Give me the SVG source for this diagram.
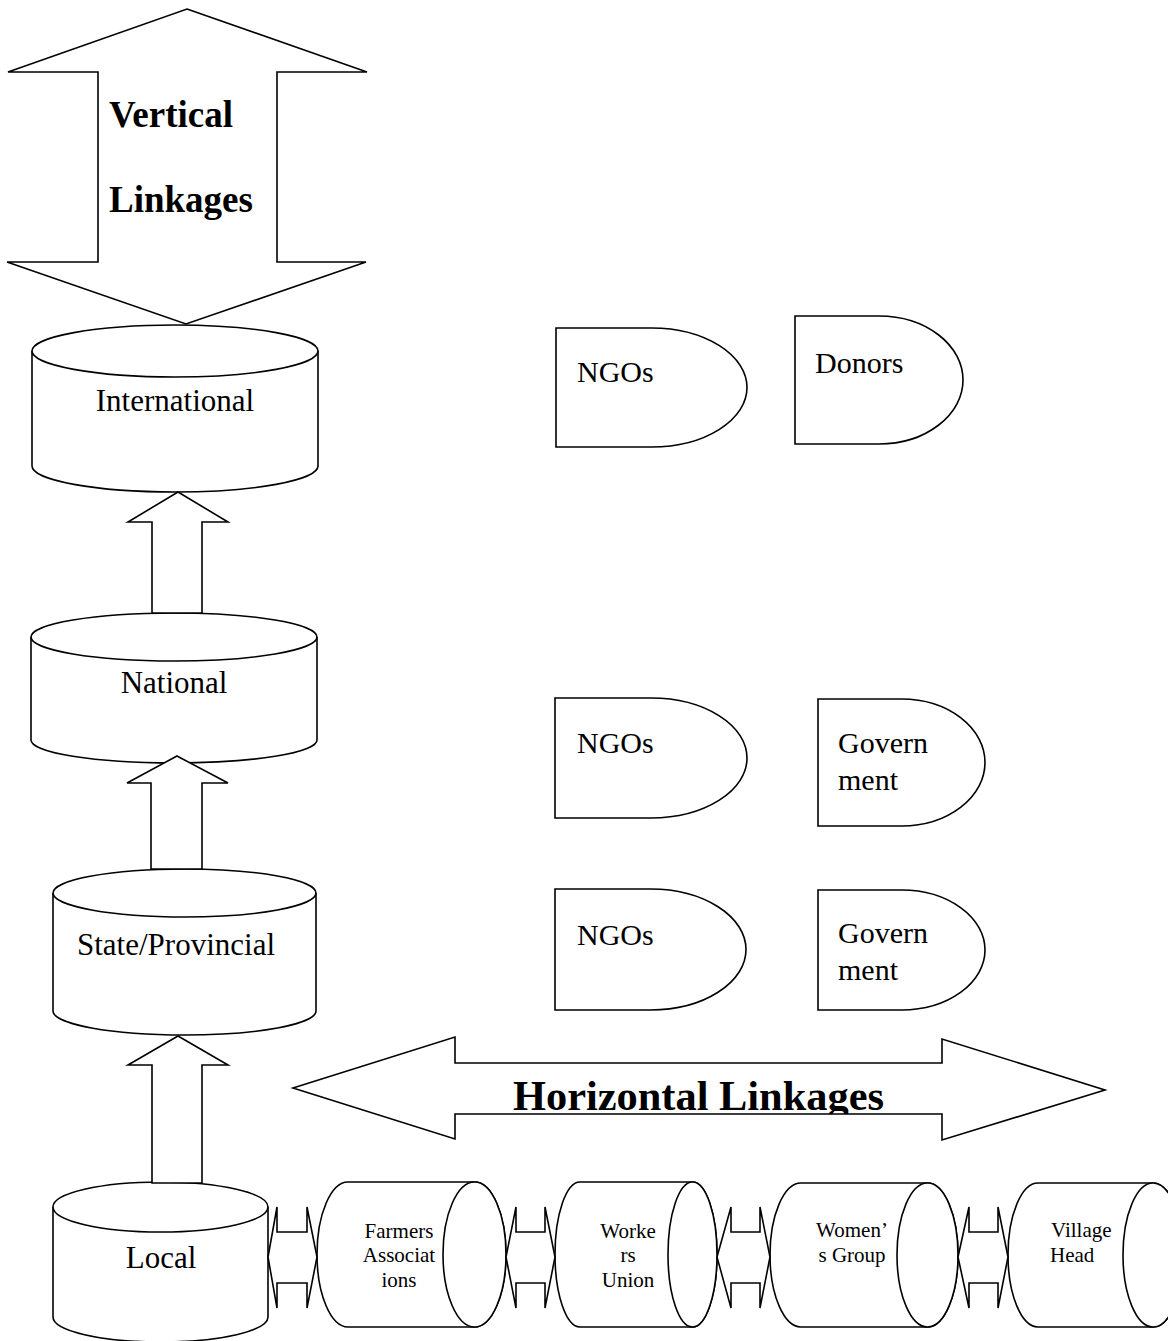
<svg xmlns="http://www.w3.org/2000/svg" width="1168" height="1341" viewBox="0 0 1168 1341">
<style>
.s{fill:#fff;stroke:#000;stroke-width:1.6;stroke-linejoin:miter}
.t{font-family:"Liberation Serif","Times New Roman",serif;fill:#000}
.big{font-size:31px}
.sm{font-size:21px}
.lab{font-size:30px}
.b{font-weight:bold}
</style>
<defs>
<clipPath id="hclip"><rect x="290" y="1030" width="820" height="84"/></clipPath>
</defs>
<rect width="1168" height="1341" fill="#fff"/>

<g id="international">
  <path class="s" d="M32,351 V466 A143 26 0 0 0 318,466 V351"/>
  <ellipse class="s" cx="175" cy="351" rx="143" ry="26"/>
  <text class="t big" x="175" y="411" text-anchor="middle">International</text>
</g>
<g id="national">
  <path class="s" d="M31,637 V740 A143 23 0 0 0 317,740 V637"/>
  <ellipse class="s" cx="174" cy="637" rx="143" ry="24"/>
  <text class="t big" x="174" y="693" text-anchor="middle">National</text>
</g>
<g id="state-provincial">
  <path class="s" d="M53,893 V1011 A131.5 24 0 0 0 316,1011 V893"/>
  <ellipse class="s" cx="184.5" cy="893" rx="131.5" ry="24"/>
  <text class="t big" x="176" y="955" text-anchor="middle">State/Provincial</text>
</g>
<g id="local">
  <path class="s" d="M53,1207 V1317 A107.5 25 0 0 0 268,1317 V1207"/>
  <ellipse class="s" cx="160.5" cy="1207" rx="107.5" ry="25"/>
  <text class="t big" x="161" y="1268" text-anchor="middle">Local</text>
</g>

<g id="farmers-associations">
  <path class="s" d="M348,1182 H474.5 A31.5 72.5 0 0 1 474.5,1327 H348 A31 72.5 0 0 1 348,1182 Z"/>
  <ellipse class="s" cx="474.5" cy="1254.5" rx="31.5" ry="72.5"/>
  <text class="t sm" text-anchor="middle"><tspan x="399" y="1238">Farmers</tspan><tspan x="399" y="1262">Associat</tspan><tspan x="399" y="1287">ions</tspan></text>
</g>
<g id="workers-union">
  <path class="s" d="M580,1182 H692.5 A24.5 72.5 0 0 1 692.5,1327 H580 A25 72.5 0 0 1 580,1182 Z"/>
  <ellipse class="s" cx="692.5" cy="1254.5" rx="24.5" ry="72.5"/>
  <text class="t sm" text-anchor="middle"><tspan x="628" y="1238">Worke</tspan><tspan x="628" y="1262">rs</tspan><tspan x="628" y="1287">Union</tspan></text>
</g>
<g id="womens-group">
  <path class="s" d="M801,1183 H927.5 A30.5 72 0 0 1 927.5,1327 H801 A31 72 0 0 1 801,1183 Z"/>
  <ellipse class="s" cx="927.5" cy="1255" rx="30.5" ry="72"/>
  <text class="t sm" text-anchor="middle"><tspan x="852" y="1237">Women’</tspan><tspan x="852" y="1262">s Group</tspan></text>
</g>
<g id="village-head">
  <path class="s" d="M1038,1183 H1153 A30 72 0 0 1 1153,1327 H1038 A30 72 0 0 1 1038,1183 Z"/>
  <ellipse class="s" cx="1153" cy="1255" rx="30" ry="72"/>
  <text class="t sm"><tspan x="1051" y="1237">Village</tspan><tspan x="1050" y="1262">Head</tspan></text>
</g>

<g id="ngos-1">
  <path class="s" d="M556,328 H651.5 A95.5 59.5 0 0 1 651.5,447 H556 Z"/>
  <text class="t lab" x="577" y="382">NGOs</text>
</g>
<g id="donors">
  <path class="s" d="M795,316 H879 A84 64 0 0 1 879,444 H795 Z"/>
  <text class="t lab" x="815" y="373">Donors</text>
</g>
<g id="ngos-2">
  <path class="s" d="M555,698 H651 A96 60 0 0 1 651,818 H555 Z"/>
  <text class="t lab" x="577" y="753">NGOs</text>
</g>
<g id="government-1">
  <path class="s" d="M818,699 H901.5 A83.5 63.5 0 0 1 901.5,826 H818 Z"/>
  <text class="t lab"><tspan x="838" y="753">Govern</tspan><tspan x="838" y="790">ment</tspan></text>
</g>
<g id="ngos-3">
  <path class="s" d="M555,889 H650.5 A95.5 60.5 0 0 1 650.5,1010 H555 Z"/>
  <text class="t lab" x="577" y="945">NGOs</text>
</g>
<g id="government-2">
  <path class="s" d="M818,890 H901.5 A83.5 60 0 0 1 901.5,1010 H818 Z"/>
  <text class="t lab"><tspan x="838" y="943">Govern</tspan><tspan x="838" y="980">ment</tspan></text>
</g>

<g id="connectors">
  <polygon id="vertical-linkages-arrow" class="s" points="187,9 367,72 277,72 277,262 366,262 186,324 7,262 98,262 98,72 8,72"/>
  <polygon id="arrow-national-international" class="s" points="178,492 228,522 202,522 202,613 152,613 152,522 128,522"/>
  <polygon id="arrow-state-national" class="s" points="177,756 228,783 202,783 202,869 151,869 151,783 127,783"/>
  <polygon id="arrow-local-state" class="s" points="178,1036 228,1065 202,1065 202,1183 152,1183 152,1065 128,1065"/>
  <polygon id="horizontal-linkages-arrow" class="s" points="293,1088 455,1037 455,1063 942,1063 942,1039 1105,1090 942,1140 942,1114 455,1114 455,1139"/>
  <polygon class="s" points="268,1257 277,1207 277,1232 307,1232 307,1207 317,1257 307,1308 307,1283 277,1283 277,1308"/>
  <polygon class="s" points="506,1257 516,1207 516,1232 545,1232 545,1207 555,1257 545,1308 545,1283 516,1283 516,1308"/>
  <polygon class="s" points="717,1257 731,1207 731,1232 760,1232 760,1207 770,1257 760,1308 760,1283 731,1283 731,1308"/>
  <polygon class="s" points="958,1257 969,1207 969,1232 998,1232 998,1207 1008,1257 998,1308 998,1283 969,1283 969,1308"/>
  <text class="t b" x="109" y="127" font-size="37">Vertical</text>
  <text class="t b" x="109" y="212" font-size="37">Linkages</text>
  <text class="t b" x="513" y="1110" font-size="43" textLength="371" lengthAdjust="spacingAndGlyphs" clip-path="url(#hclip)">Horizontal Linkages</text>
</g>
</svg>
